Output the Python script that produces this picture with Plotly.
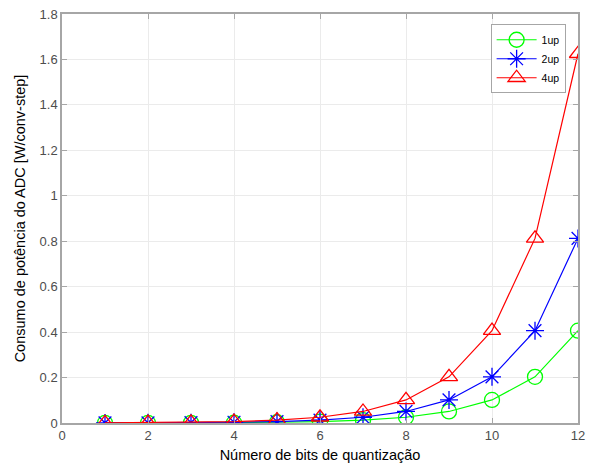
import plotly.graph_objects as go

# Quantization bits and ADC power consumption per configuration
bits = [1, 2, 3, 4, 5, 6, 7, 8, 9, 10, 11, 12]
power_1up = [0.0002, 0.0004, 0.0008, 0.0016, 0.0032, 0.0064, 0.0127, 0.0254, 0.0508, 0.1016, 0.2031, 0.4063]
power_2up = [0.0004, 0.0008, 0.0016, 0.0032, 0.0064, 0.0127, 0.0254, 0.0508, 0.1016, 0.2031, 0.4063, 0.8125]
power_4up = [0.0008, 0.0016, 0.0032, 0.0064, 0.0127, 0.0254, 0.0508, 0.1016, 0.2031, 0.4063, 0.8125, 1.6250]

x_ticks = [0, 2, 4, 6, 8, 10, 12]
y_ticks = [0, 0.2, 0.4, 0.6, 0.8, 1, 1.2, 1.4, 1.6, 1.8]

FONT = "Liberation Sans, Arial, sans-serif"

series = [
    ("1up", power_1up, "#00ff00", "circle-open"),
    ("2up", power_2up, "#0000ff", "asterisk-open"),
    ("4up", power_4up, "#ff0000", "triangle-up-open"),
]

fig = go.Figure()
for name, vals, color, symbol in series:
    fig.add_trace(go.Scatter(
        x=bits, y=vals, name=name, mode="lines+markers",
        line=dict(color=color, width=1.2),
        marker=dict(symbol=symbol, size=15, color=color, line=dict(color=color, width=1.3)),
    ))

axis_common = dict(
    showline=True, linecolor="#a6a6a6", linewidth=1.5, mirror="ticks",
    ticks="inside", ticklen=5, tickcolor="#a6a6a6", tickwidth=1,
    showgrid=True, gridcolor="#ebebeb", gridwidth=1, zeroline=False,
    automargin=False,
    tickfont=dict(family=FONT, size=13, color="#4d4d4d"),
)

fig.update_xaxes(
    range=[0, 12], tickvals=x_ticks,
    title=dict(text="Número de bits de quantização", standoff=8,
               font=dict(family=FONT, size=14.5, color="#000000")),
    **axis_common,
)
fig.update_yaxes(
    range=[0, 1.8], tickvals=y_ticks,
    title=dict(text="Consumo de potência do ADC [W/conv-step]", standoff=10,
               font=dict(family=FONT, size=14.5, color="#000000")),
    **axis_common,
)

fig.update_layout(
    width=589, height=465,
    margin=dict(l=62, r=11, t=14, b=42),
    plot_bgcolor="white", paper_bgcolor="white",
    legend=dict(
        x=0.976, y=0.975, xanchor="right", yanchor="top",
        bgcolor="white", bordercolor="#a6a6a6", borderwidth=1,
        font=dict(family=FONT, size=10.5, color="#000000"),
        tracegroupgap=0, itemwidth=40,
    ),
)

fig.write_html("out.html")
